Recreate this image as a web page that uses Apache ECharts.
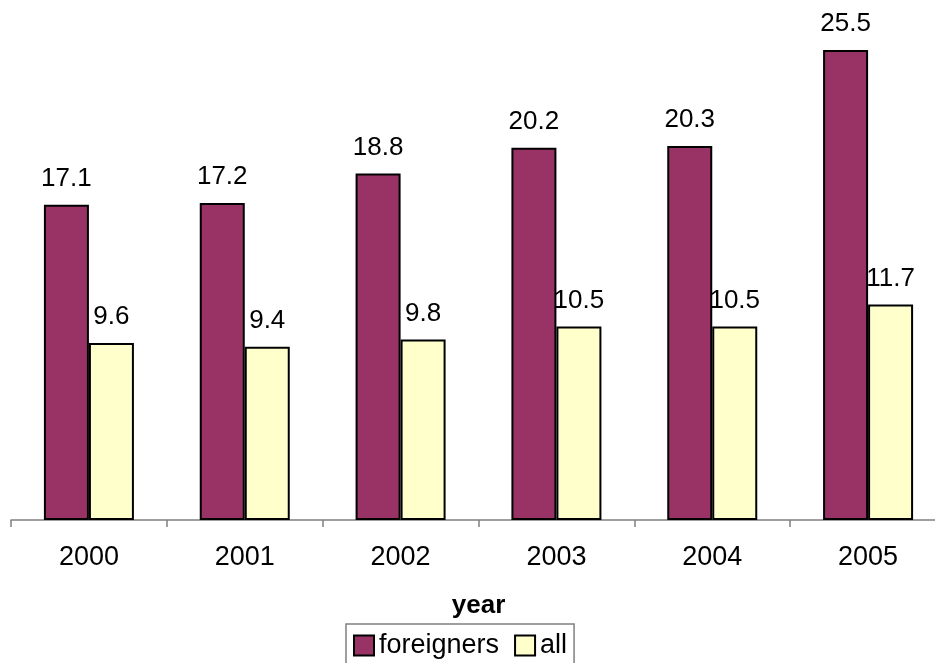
<!DOCTYPE html>
<html>
<head>
<meta charset="utf-8">
<script src="https://cdn.jsdelivr.net/npm/echarts@6/dist/echarts.min.js"></script>
<style>html,body{margin:0;padding:0;background:#fff;}#c{width:935px;height:663px;}</style>
</head>
<body>
<div id="c"></div>
<script>
var years = ['2000', '2001', '2002', '2003', '2004', '2005'];
var foreigners = [17.1, 17.2, 18.8, 20.2, 20.3, 25.5];
var all = [9.6, 9.4, 9.8, 10.5, 10.5, 11.7];

var chart = echarts.init(document.getElementById('c'), null, {renderer: 'canvas'});
var FONT = 'Liberation Sans, Arial, sans-serif';
var labelCfg = {show: true, position: 'top', distance: 13, color: '#000', fontSize: 26, fontFamily: FONT,
  formatter: function (p) { return p.value.toFixed(1); }};
chart.setOption({
  animation: false,
  backgroundColor: '#fff',
  grid: {left: 11, width: 935, top: 4, height: 516, containLabel: false, outerBoundsMode: 'none'},
  xAxis: {
    type: 'category', data: years, boundaryGap: true,
    axisLine: {lineStyle: {color: '#808080', width: 1.5}},
    axisTick: {show: true, length: 7, lineStyle: {color: '#808080', width: 1.5}},
    axisLabel: {color: '#000', fontSize: 27, fontFamily: FONT, margin: 24},
    name: 'year', nameLocation: 'middle', nameGap: 73,
    nameTextStyle: {color: '#000', fontSize: 26, fontWeight: 'bold', fontFamily: FONT}
  },
  yAxis: {type: 'value', min: 0, max: 28, show: false, splitLine: {show: false}},
  legend: {
    left: 346, top: 624, orient: 'horizontal',
    padding: [8, 7], itemGap: 15, itemWidth: 20, itemHeight: 20,
    borderColor: '#808080', borderWidth: 1.5,
    textStyle: {color: '#000', fontSize: 27, fontFamily: FONT},
    data: [{name: 'foreigners', icon: 'rect'}, {name: 'all', icon: 'rect'}]
  },
  series: [
    {name: 'foreigners', type: 'bar', data: foreigners, barWidth: 45, barGap: '0%',
      itemStyle: {color: '#993366', borderColor: '#000', borderWidth: 2}, label: labelCfg},
    {name: 'all', type: 'bar', data: all, barWidth: 45, barGap: '0%',
      itemStyle: {color: '#FFFFCC', borderColor: '#000', borderWidth: 2}, label: labelCfg}
  ]
});
</script>
</body>
</html>
